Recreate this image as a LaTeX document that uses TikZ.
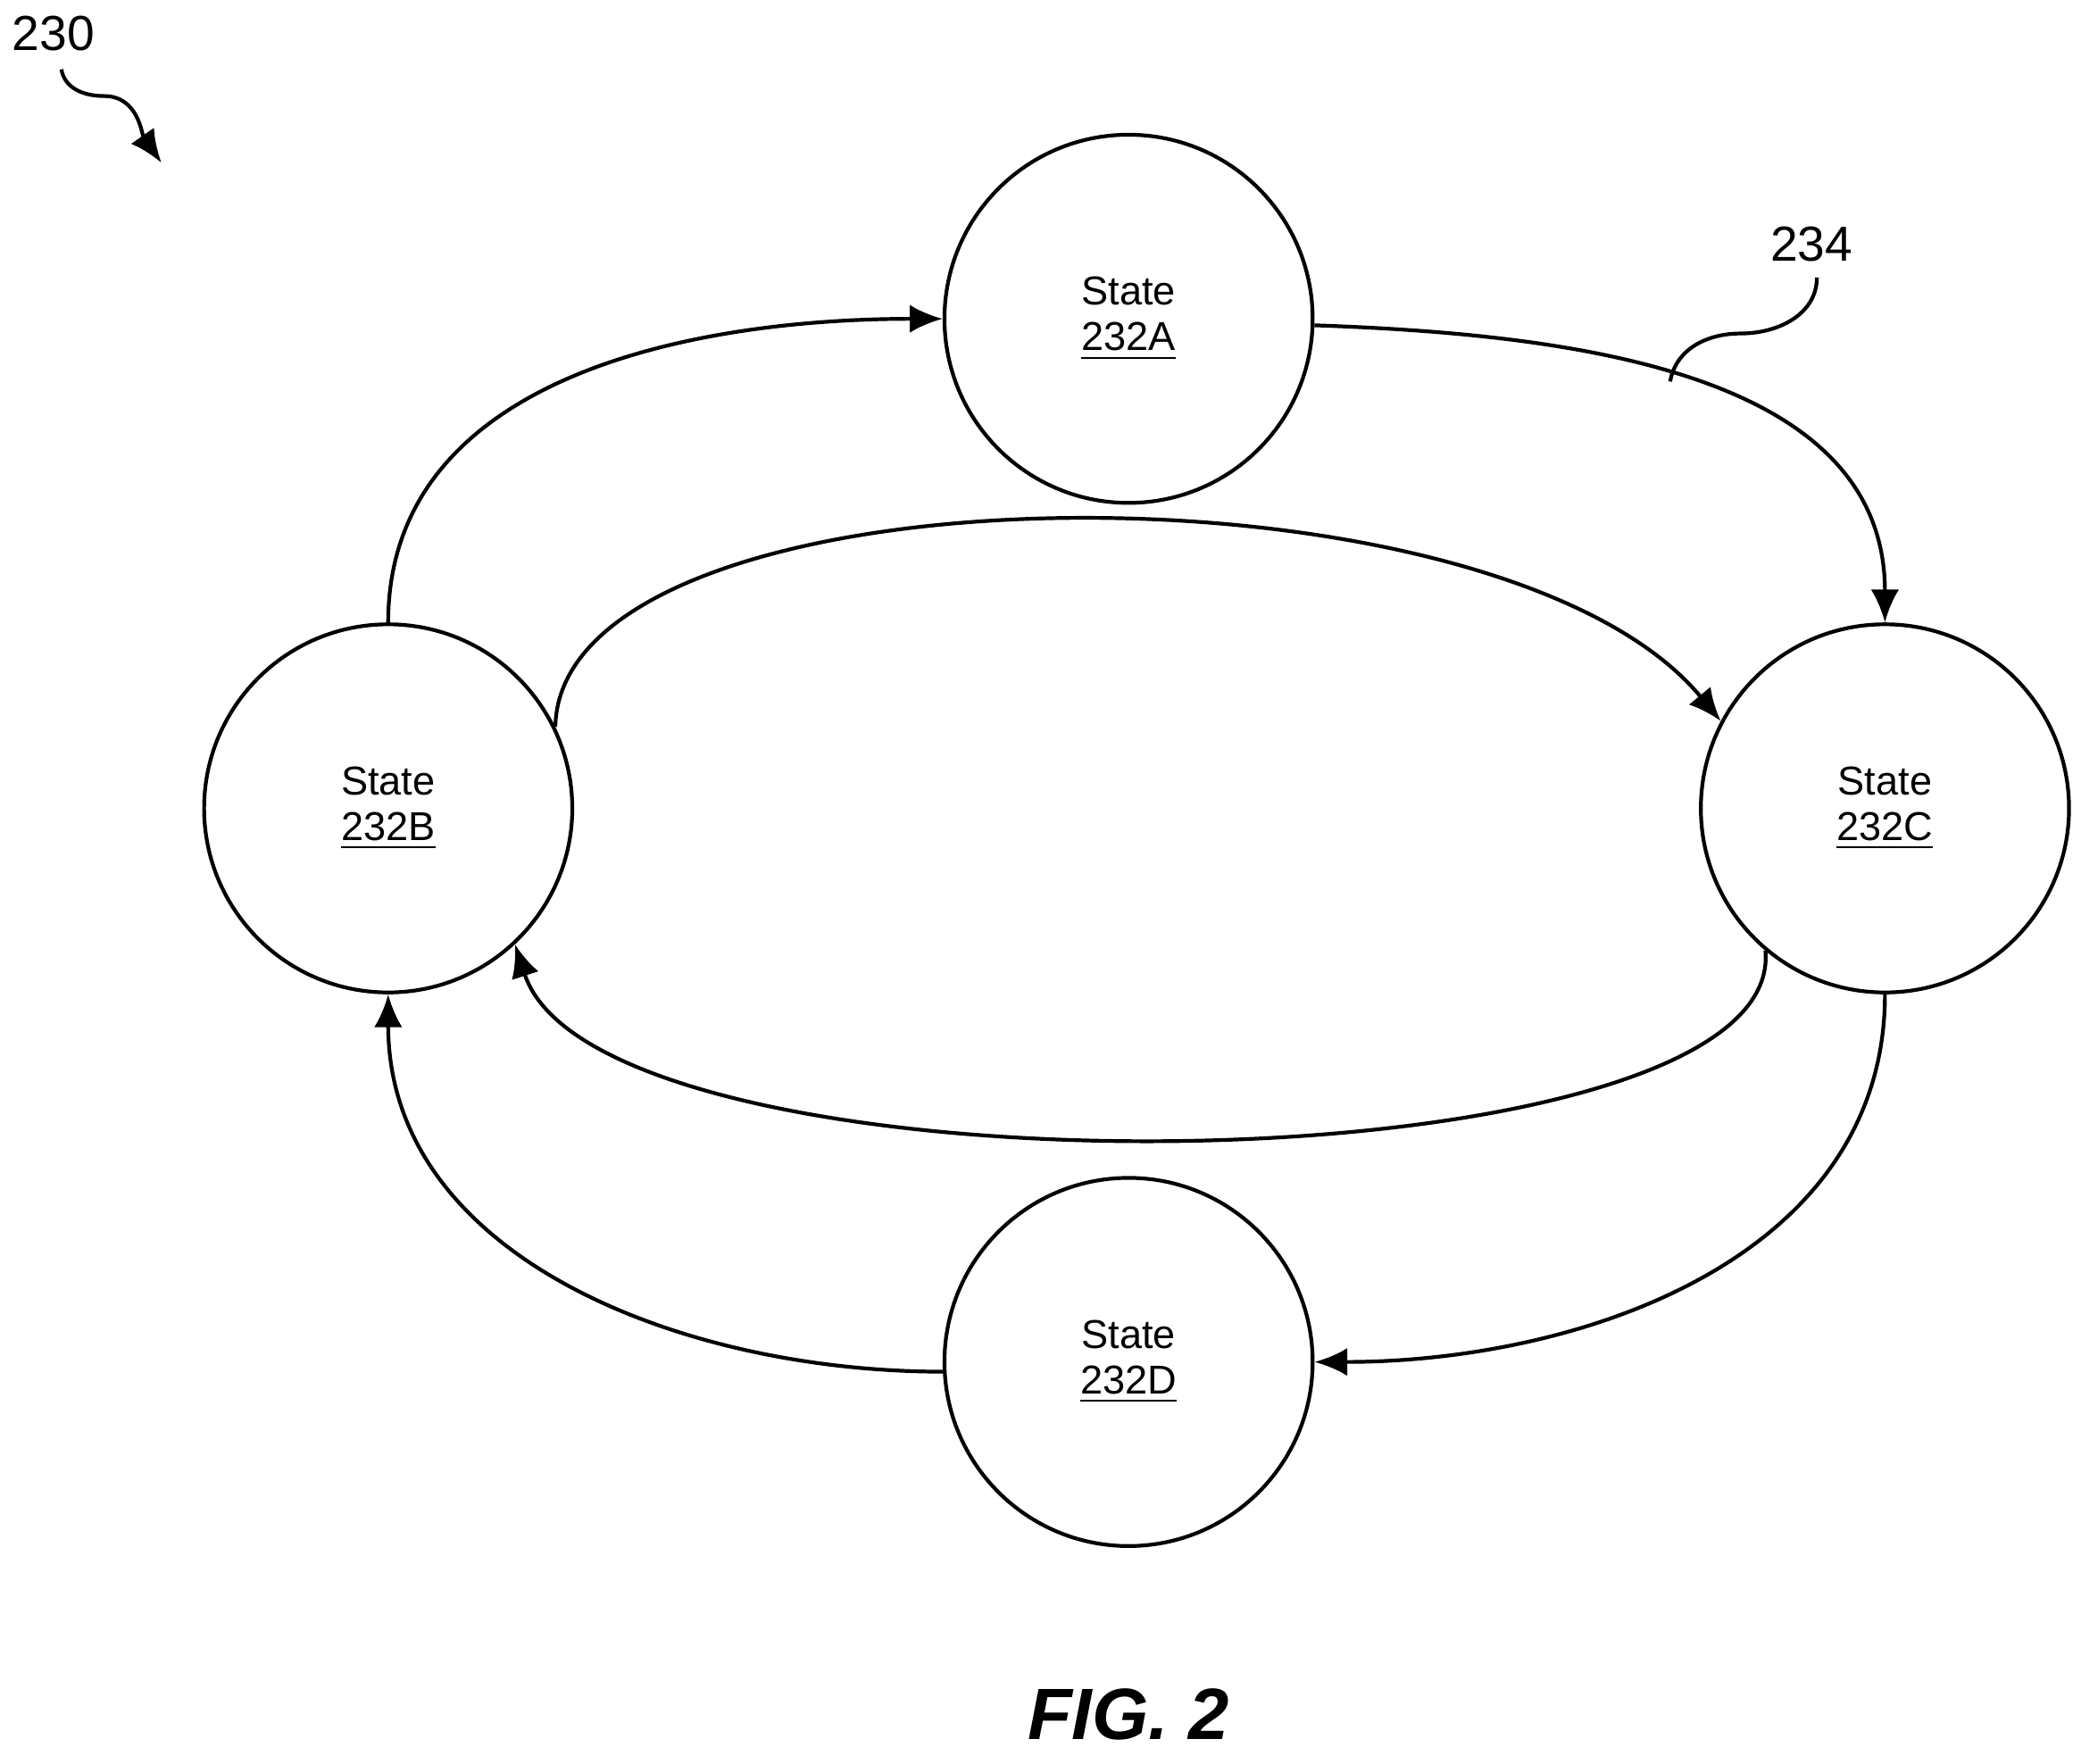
\documentclass[tikz,border=0pt]{standalone}
\usepackage{fontspec}
\setmainfont{Liberation Sans}
\usetikzlibrary{arrows.meta, positioning}

\tikzset{
  statenode/.style={draw, circle, line width=0.8pt, minimum size=2.76cm, inner sep=0pt, align=center, font=\fontsize{8.6}{9.7}\selectfont},
  trans/.style={line width=0.8pt, -{Latex[length=7pt,width=6pt]}},
  refnum/.style={font=\fontsize{10.5}{12}\selectfont}
}

\begin{document}
\begin{tikzpicture}

\useasboundingbox (0,0) rectangle (15.6,-13.22);

% states
\node[statenode] (sa) at (8.46,-2.39) {State\\\underline{232A}};
\node[statenode] (sb) at (2.91,-6.06) {State\\\underline{232B}};
\node[statenode] (sc) at (14.13,-6.06) {State\\\underline{232C}};
\node[statenode] (sd) at (8.46,-10.21) {State\\\underline{232D}};

% transitions
\draw[trans] (sb.90) to[out=90, in=180] (sa.180);
\draw[trans] (sa.-2) to[out=-2, in=90] (sc.90);
\draw[trans] (sb.26) .. controls (4.2,-3.45) and (11.2,-3.35) .. (sc.152);
\draw[trans] (sc.-130) .. controls (13.4,-8.95) and (4.5,-9.05) .. (sb.-47);
\draw[trans] (sc.-90) to[out=-90, in=0] (sd.0);
\draw[trans] (sd.183) to[out=180, in=-90] (sb.-90);

% reference numerals
\node[refnum] (n230) at (0.40,-0.25) {230};
\coordinate (t230) at (1.21,-1.22);
\draw[line width=0.8pt, -{Latex[length=7pt,width=6pt]}] (0.46,-0.52) to[out=-80, in=180] (0.78,-0.72) to[out=0, in=125] (t230);

\node[refnum] (n234) at (13.58,-1.83) {234};
\coordinate (t234) at (12.52,-2.86);
\draw[line width=0.8pt] (t234) to[out=80, in=180] (13.05,-2.5) to[out=0, in=-90] (13.62,-2.08);

\node[font=\bfseries\itshape\fontsize{15.5}{17}\selectfont] (fig) at (8.46,-12.85) {FIG. 2};

\end{tikzpicture}
\end{document}
